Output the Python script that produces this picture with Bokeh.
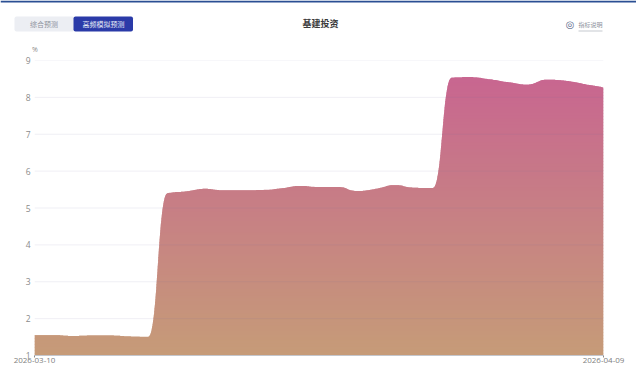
from bokeh.embed import file_html
from bokeh.layouts import column, row
from bokeh.models import BoxAnnotation, FixedTicker, Span
from bokeh.plotting import figure
from bokeh.core.properties import value
from bokeh.resources import INLINE
import numpy as np

dates = ["2026-03-10", "2026-04-09"]
date_positions = [0, 30]
y_ticks = [1, 2, 3, 4, 5, 6, 7, 8, 9]
unit_label = "%"
chart_title = "基建投资"
tabs = ["综合预测", "高频模拟预测"]
note_label = "指标说明"

# Daily readings, one per day from 2026-03-10 to 2026-04-09
series_values = [
    1.55, 1.55, 1.53, 1.54, 1.54, 1.52, 1.51, 5.40, 5.45, 5.52, 5.48,
    5.48, 5.49, 5.53, 5.60, 5.57, 5.57, 5.46, 5.52, 5.62, 5.55, 5.54,
    8.54, 8.55, 8.49, 8.41, 8.35, 8.48, 8.45, 8.36, 8.27,
]

top_colour = np.array([0xC8, 0x66, 0x90])
bottom_colour = np.array([0xC6, 0x9B, 0x78])
FONT_CJK = "Noto Sans CJK SC"
FONT_AXIS = "Open Sans"

WIDTH, HEIGHT = 636, 371
HEADER_H = 53
FRAME_TOP, FRAME_BOTTOM = 60, 355


def smooth_curve(values):
    """Bezier segments with half-interval handles, flattened at local extremes."""
    v = np.asarray(values, dtype=float)
    slope = np.zeros_like(v)
    d = np.diff(v)
    for i in range(1, len(v) - 1):
        if d[i - 1] * d[i] > 0:
            slope[i] = 2 * d[i - 1] * d[i] / (d[i - 1] + d[i])
    slope[0], slope[-1] = d[0], d[-1]
    t = np.linspace(0, 1, 24, endpoint=False)
    b0, b1, b2, b3 = (1 - t)**3, 3 * t * (1 - t)**2, 3 * t**2 * (1 - t), t**3
    xs, ys = [], []
    for i in range(len(v) - 1):
        xs.append(b0 * i + b1 * (i + 0.5) + b2 * (i + 0.5) + b3 * (i + 1))
        ys.append(b0 * v[i] + b1 * (v[i] + slope[i] / 2)
                  + b2 * (v[i + 1] - slope[i + 1] / 2) + b3 * v[i + 1])
    xs.append(np.array([len(v) - 1.0]))
    ys.append(np.array([v[-1]]))
    return np.concatenate(xs), np.concatenate(ys)


# Header strip: pixel-scaled figure holding the tabs, title and note link
header = figure(
    width=WIDTH, height=HEADER_H, output_backend="svg", toolbar_location=None,
    x_range=(0, WIDTH), y_range=(HEADER_H, 0), min_border=0,
    x_axis_type=None, y_axis_type=None,
)
header.outline_line_color = None
header.grid.visible = False


def box(left, right, top, bottom, colour, radius=0):
    header.add_layout(BoxAnnotation(
        left=left, right=right, top=top, bottom=bottom, level="underlay",
        fill_color=colour, fill_alpha=1, line_color=None, border_radius=radius,
        editable=False))


def caption(x, y, content, size, colour, font=FONT_CJK, style="normal"):
    header.text([x], [y], text=[content], text_font=value(font), text_font_size=size,
                text_color=colour, text_font_style=style,
                text_align="center", text_baseline="middle")


box(0, WIDTH, 0, 2, "#2b4f93")
box(14, 74, 16, 31, "#eceef3", 2)
box(73, 132.5, 16, 31, "#2a3aa8", 2)
caption(43.5, 23.5, tabs[0], "7px", "#8c919c")
caption(103, 23.5, tabs[1], "7px", "#e8eaf6")
caption(320, 22.5, chart_title, "9px", "#3a3a3a", style="bold")
caption(569.5, 24, "◎", "10px", "#5c6b8c", font="DejaVu Sans")
caption(590, 23.5, note_label, "6px", "#8c919c")
box(578, 602, 30, 31, "#c6c9d0")
caption(34.5, 49, unit_label, "7px", "#8a8a8a", font=FONT_AXIS)

# Main chart
p = figure(
    width=WIDTH, height=HEIGHT - HEADER_H, output_backend="svg", toolbar_location=None,
    x_range=(date_positions[0], date_positions[1]), y_range=(y_ticks[0], y_ticks[-1]),
    min_border_left=34, min_border_right=33,
    min_border_top=FRAME_TOP - HEADER_H, min_border_bottom=HEIGHT - FRAME_BOTTOM,
)
p.outline_line_color = None
p.background_fill_color = "white"
p.grid.visible = False

# Vertical gradient: overlapping bands painted top down, each covering the last one's lower edge
cx, cy = smooth_curve(series_values)
peak = max(series_values)
units_per_px = (y_ticks[-1] - y_ticks[0]) / (FRAME_BOTTOM - FRAME_TOP)
levels = y_ticks[0] + np.arange(0, int((peak - y_ticks[0]) / units_per_px) + 4, 3) * units_per_px
for i in range(len(levels) - 2, -1, -1):
    mix = 1 - i / (len(levels) - 2)
    rgb = (top_colour + (bottom_colour - top_colour) * mix).round().astype(int)
    lower = max(levels[i] - 2 * units_per_px, y_ticks[0])
    p.varea(cx, y1=np.minimum(cy, lower), y2=np.minimum(cy, levels[i + 1]),
            fill_color="#%02x%02x%02x" % tuple(rgb), fill_alpha=1)

# Grid lines sit over the area, faint enough to show through it
for tick in y_ticks[1:]:
    p.add_layout(Span(location=tick, dimension="width", line_color="#7a6aa0",
                      line_alpha=0.11, line_width=1, level="overlay"))

p.yaxis.ticker = FixedTicker(ticks=y_ticks)
p.yaxis.axis_line_color = None
p.yaxis.major_tick_line_color = None
p.yaxis.major_tick_in = 0
p.yaxis.major_tick_out = 0
p.yaxis.minor_tick_line_color = None
p.yaxis.major_label_standoff = 4
p.yaxis.major_label_text_color = "#8a8a8a"
p.yaxis.major_label_text_font = FONT_AXIS
p.yaxis.major_label_text_font_size = "8.5px"

p.xaxis.ticker = FixedTicker(ticks=date_positions)
p.xaxis.major_label_overrides = dict(zip(date_positions, dates))
p.xaxis.axis_line_color = "#c4c6cc"
p.xaxis.major_tick_line_color = "#8a8a8a"
p.xaxis.major_tick_in = 0
p.xaxis.major_tick_out = 2
p.xaxis.minor_tick_line_color = None
p.xaxis.major_label_standoff = 0
p.xaxis.major_label_text_color = "#808080"
p.xaxis.major_label_text_font = FONT_AXIS
p.xaxis.major_label_text_font_size = "8px"

page = column(row(header), p, spacing=0)
open("out.html", "w").write(file_html(page, INLINE))
